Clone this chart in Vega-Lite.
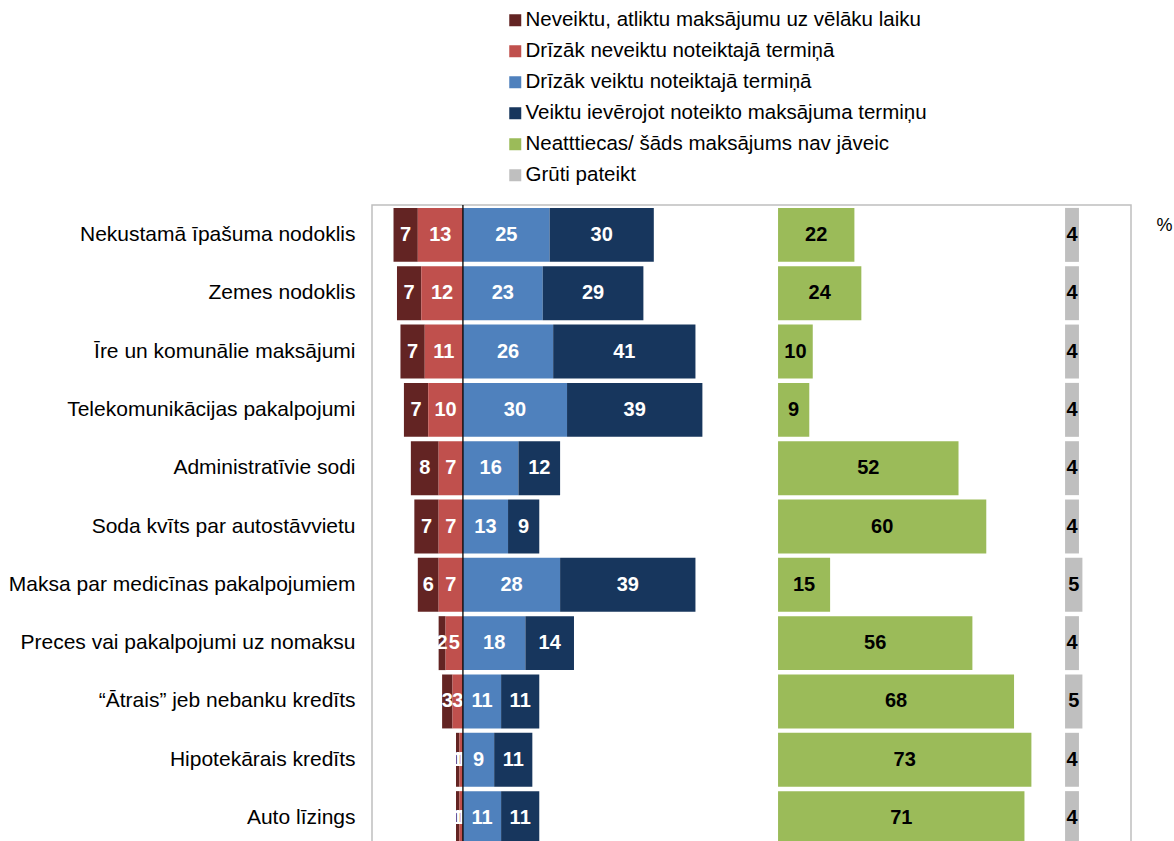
{
  "$schema": "https://vega.github.io/schema/vega-lite/v6.json",
  "width": 759,
  "height": 643,
  "autosize": {"type": "none"},
  "padding": {"left": 372, "top": 205, "right": 43, "bottom": 5},
  "config": {
    "font": "Liberation Sans",
    "view": {"stroke": "#BFBFBF", "strokeWidth": 1.5},
    "legend": {
      "orient": "none",
      "legendX": 133,
      "legendY": -195,
      "symbolType": "square",
      "symbolSize": 144,
      "symbolStrokeWidth": 0,
      "labelFontSize": 20.5,
      "labelFont": "Liberation Sans",
      "labelColor": "#000000",
      "labelOffset": 0,
      "labelLimit": 700,
      "rowPadding": 10,
      "padding": 0
    }
  },
  "data": {
    "values": [
      {"cat": "Nekustamā īpašuma nodoklis", "series": "Neveiktu, atliktu maksājumu uz vēlāku laiku", "value": 7},
      {"cat": "Nekustamā īpašuma nodoklis", "series": "Drīzāk neveiktu noteiktajā termiņā", "value": 13},
      {"cat": "Nekustamā īpašuma nodoklis", "series": "Drīzāk veiktu noteiktajā termiņā", "value": 25},
      {"cat": "Nekustamā īpašuma nodoklis", "series": "Veiktu ievērojot noteikto maksājuma termiņu", "value": 30},
      {"cat": "Nekustamā īpašuma nodoklis", "series": "Neatttiecas/ šāds maksājums nav jāveic", "value": 22},
      {"cat": "Nekustamā īpašuma nodoklis", "series": "Grūti pateikt", "value": 4},
      {"cat": "Zemes nodoklis", "series": "Neveiktu, atliktu maksājumu uz vēlāku laiku", "value": 7},
      {"cat": "Zemes nodoklis", "series": "Drīzāk neveiktu noteiktajā termiņā", "value": 12},
      {"cat": "Zemes nodoklis", "series": "Drīzāk veiktu noteiktajā termiņā", "value": 23},
      {"cat": "Zemes nodoklis", "series": "Veiktu ievērojot noteikto maksājuma termiņu", "value": 29},
      {"cat": "Zemes nodoklis", "series": "Neatttiecas/ šāds maksājums nav jāveic", "value": 24},
      {"cat": "Zemes nodoklis", "series": "Grūti pateikt", "value": 4},
      {"cat": "Īre un komunālie maksājumi", "series": "Neveiktu, atliktu maksājumu uz vēlāku laiku", "value": 7},
      {"cat": "Īre un komunālie maksājumi", "series": "Drīzāk neveiktu noteiktajā termiņā", "value": 11},
      {"cat": "Īre un komunālie maksājumi", "series": "Drīzāk veiktu noteiktajā termiņā", "value": 26},
      {"cat": "Īre un komunālie maksājumi", "series": "Veiktu ievērojot noteikto maksājuma termiņu", "value": 41},
      {"cat": "Īre un komunālie maksājumi", "series": "Neatttiecas/ šāds maksājums nav jāveic", "value": 10},
      {"cat": "Īre un komunālie maksājumi", "series": "Grūti pateikt", "value": 4},
      {"cat": "Telekomunikācijas pakalpojumi", "series": "Neveiktu, atliktu maksājumu uz vēlāku laiku", "value": 7},
      {"cat": "Telekomunikācijas pakalpojumi", "series": "Drīzāk neveiktu noteiktajā termiņā", "value": 10},
      {"cat": "Telekomunikācijas pakalpojumi", "series": "Drīzāk veiktu noteiktajā termiņā", "value": 30},
      {"cat": "Telekomunikācijas pakalpojumi", "series": "Veiktu ievērojot noteikto maksājuma termiņu", "value": 39},
      {"cat": "Telekomunikācijas pakalpojumi", "series": "Neatttiecas/ šāds maksājums nav jāveic", "value": 9},
      {"cat": "Telekomunikācijas pakalpojumi", "series": "Grūti pateikt", "value": 4},
      {"cat": "Administratīvie sodi ", "series": "Neveiktu, atliktu maksājumu uz vēlāku laiku", "value": 8},
      {"cat": "Administratīvie sodi ", "series": "Drīzāk neveiktu noteiktajā termiņā", "value": 7},
      {"cat": "Administratīvie sodi ", "series": "Drīzāk veiktu noteiktajā termiņā", "value": 16},
      {"cat": "Administratīvie sodi ", "series": "Veiktu ievērojot noteikto maksājuma termiņu", "value": 12},
      {"cat": "Administratīvie sodi ", "series": "Neatttiecas/ šāds maksājums nav jāveic", "value": 52},
      {"cat": "Administratīvie sodi ", "series": "Grūti pateikt", "value": 4},
      {"cat": "Soda kvīts par autostāvvietu", "series": "Neveiktu, atliktu maksājumu uz vēlāku laiku", "value": 7},
      {"cat": "Soda kvīts par autostāvvietu", "series": "Drīzāk neveiktu noteiktajā termiņā", "value": 7},
      {"cat": "Soda kvīts par autostāvvietu", "series": "Drīzāk veiktu noteiktajā termiņā", "value": 13},
      {"cat": "Soda kvīts par autostāvvietu", "series": "Veiktu ievērojot noteikto maksājuma termiņu", "value": 9},
      {"cat": "Soda kvīts par autostāvvietu", "series": "Neatttiecas/ šāds maksājums nav jāveic", "value": 60},
      {"cat": "Soda kvīts par autostāvvietu", "series": "Grūti pateikt", "value": 4},
      {"cat": "Maksa par medicīnas pakalpojumiem", "series": "Neveiktu, atliktu maksājumu uz vēlāku laiku", "value": 6},
      {"cat": "Maksa par medicīnas pakalpojumiem", "series": "Drīzāk neveiktu noteiktajā termiņā", "value": 7},
      {"cat": "Maksa par medicīnas pakalpojumiem", "series": "Drīzāk veiktu noteiktajā termiņā", "value": 28},
      {"cat": "Maksa par medicīnas pakalpojumiem", "series": "Veiktu ievērojot noteikto maksājuma termiņu", "value": 39},
      {"cat": "Maksa par medicīnas pakalpojumiem", "series": "Neatttiecas/ šāds maksājums nav jāveic", "value": 15},
      {"cat": "Maksa par medicīnas pakalpojumiem", "series": "Grūti pateikt", "value": 5},
      {"cat": "Preces vai pakalpojumi uz nomaksu", "series": "Neveiktu, atliktu maksājumu uz vēlāku laiku", "value": 2},
      {"cat": "Preces vai pakalpojumi uz nomaksu", "series": "Drīzāk neveiktu noteiktajā termiņā", "value": 5},
      {"cat": "Preces vai pakalpojumi uz nomaksu", "series": "Drīzāk veiktu noteiktajā termiņā", "value": 18},
      {"cat": "Preces vai pakalpojumi uz nomaksu", "series": "Veiktu ievērojot noteikto maksājuma termiņu", "value": 14},
      {"cat": "Preces vai pakalpojumi uz nomaksu", "series": "Neatttiecas/ šāds maksājums nav jāveic", "value": 56},
      {"cat": "Preces vai pakalpojumi uz nomaksu", "series": "Grūti pateikt", "value": 4},
      {"cat": "“Ātrais” jeb nebanku kredīts", "series": "Neveiktu, atliktu maksājumu uz vēlāku laiku", "value": 3},
      {"cat": "“Ātrais” jeb nebanku kredīts", "series": "Drīzāk neveiktu noteiktajā termiņā", "value": 3},
      {"cat": "“Ātrais” jeb nebanku kredīts", "series": "Drīzāk veiktu noteiktajā termiņā", "value": 11},
      {"cat": "“Ātrais” jeb nebanku kredīts", "series": "Veiktu ievērojot noteikto maksājuma termiņu", "value": 11},
      {"cat": "“Ātrais” jeb nebanku kredīts", "series": "Neatttiecas/ šāds maksājums nav jāveic", "value": 68},
      {"cat": "“Ātrais” jeb nebanku kredīts", "series": "Grūti pateikt", "value": 5},
      {"cat": "Hipotekārais kredīts", "series": "Neveiktu, atliktu maksājumu uz vēlāku laiku", "value": 1},
      {"cat": "Hipotekārais kredīts", "series": "Drīzāk neveiktu noteiktajā termiņā", "value": 1},
      {"cat": "Hipotekārais kredīts", "series": "Drīzāk veiktu noteiktajā termiņā", "value": 9},
      {"cat": "Hipotekārais kredīts", "series": "Veiktu ievērojot noteikto maksājuma termiņu", "value": 11},
      {"cat": "Hipotekārais kredīts", "series": "Neatttiecas/ šāds maksājums nav jāveic", "value": 73},
      {"cat": "Hipotekārais kredīts", "series": "Grūti pateikt", "value": 4},
      {"cat": "Auto līzings", "series": "Neveiktu, atliktu maksājumu uz vēlāku laiku", "value": 1},
      {"cat": "Auto līzings", "series": "Drīzāk neveiktu noteiktajā termiņā", "value": 1},
      {"cat": "Auto līzings", "series": "Drīzāk veiktu noteiktajā termiņā", "value": 11},
      {"cat": "Auto līzings", "series": "Veiktu ievērojot noteikto maksājuma termiņu", "value": 11},
      {"cat": "Auto līzings", "series": "Neatttiecas/ šāds maksājums nav jāveic", "value": 71},
      {"cat": "Auto līzings", "series": "Grūti pateikt", "value": 4}
    ]
  },
  "resolve": {"scale": {"x": "independent"}, "axis": {"y": "independent"}},
  "layer": [
    {
      "transform": [
        {"filter": {"field": "series", "oneOf": ["Neveiktu, atliktu maksājumu uz vēlāku laiku", "Drīzāk neveiktu noteiktajā termiņā"]}},
        {"stack": "value", "groupby": ["cat"], "sort": [{"field": "series", "order": "ascending"}], "as": ["s0", "s1"]},
        {"calculate": "(datum.s0 + datum.s1) / 2", "as": "mid"}
      ],
      "encoding": {
        "y": {
          "field": "cat", "type": "nominal",
          "sort": ["Nekustamā īpašuma nodoklis", "Zemes nodoklis", "Īre un komunālie maksājumi", "Telekomunikācijas pakalpojumi", "Administratīvie sodi ", "Soda kvīts par autostāvvietu", "Maksa par medicīnas pakalpojumiem", "Preces vai pakalpojumi uz nomaksu", "“Ātrais” jeb nebanku kredīts", "Hipotekārais kredīts", "Auto līzings"],
          "scale": {"paddingInner": 0.075, "paddingOuter": 0.05},
          "axis": {"title": null, "ticks": false, "domain": false, "labelFontSize": 21, "labelFont": "Liberation Sans", "labelPadding": 17, "labelColor": "#000000", "labelLimit": 500}
        }
      },
      "layer": [
        {
          "mark": {"type": "bar"},
          "encoding": {
            "x": {"field": "s0", "type": "quantitative", "scale": {"domain": [-192.5, 26.2], "reverse": true, "nice": false, "zero": false}, "axis": null},
            "x2": {"field": "s1"},
            "color": {
              "field": "series", "type": "nominal",
              "scale": {
                "domain": ["Neveiktu, atliktu maksājumu uz vēlāku laiku", "Drīzāk neveiktu noteiktajā termiņā", "Drīzāk veiktu noteiktajā termiņā", "Veiktu ievērojot noteikto maksājuma termiņu", "Neatttiecas/ šāds maksājums nav jāveic", "Grūti pateikt"],
                "range": ["#632423", "#C0504D", "#4F81BD", "#17365D", "#9BBB59", "#BFBFBF"]
              },
              "legend": {"title": null}
            }
          }
        },
        {
          "mark": {"type": "text", "color": "white", "fontWeight": "bold", "fontSize": 20},
          "encoding": {
            "x": {"field": "mid", "type": "quantitative", "scale": {"domain": [-192.5, 26.2], "reverse": true, "nice": false, "zero": false}, "axis": null},
            "text": {"field": "value", "type": "quantitative"}
          }
        }
      ]
    },
    {
      "transform": [
        {"filter": {"field": "series", "oneOf": ["Drīzāk veiktu noteiktajā termiņā", "Veiktu ievērojot noteikto maksājuma termiņu"]}},
        {"stack": "value", "groupby": ["cat"], "sort": [{"field": "series", "order": "ascending"}], "as": ["s0", "s1"]},
        {"calculate": "(datum.s0 + datum.s1) / 2", "as": "mid"}
      ],
      "encoding": {
        "y": {
          "field": "cat", "type": "nominal",
          "sort": ["Nekustamā īpašuma nodoklis", "Zemes nodoklis", "Īre un komunālie maksājumi", "Telekomunikācijas pakalpojumi", "Administratīvie sodi ", "Soda kvīts par autostāvvietu", "Maksa par medicīnas pakalpojumiem", "Preces vai pakalpojumi uz nomaksu", "“Ātrais” jeb nebanku kredīts", "Hipotekārais kredīts", "Auto līzings"],
          "axis": null
        }
      },
      "layer": [
        {
          "mark": {"type": "bar"},
          "encoding": {
            "x": {"field": "s0", "type": "quantitative", "scale": {"domain": [-26.2, 192.5], "nice": false, "zero": false}, "axis": null},
            "x2": {"field": "s1"},
            "color": {
              "field": "series", "type": "nominal",
              "scale": {
                "domain": ["Neveiktu, atliktu maksājumu uz vēlāku laiku", "Drīzāk neveiktu noteiktajā termiņā", "Drīzāk veiktu noteiktajā termiņā", "Veiktu ievērojot noteikto maksājuma termiņu", "Neatttiecas/ šāds maksājums nav jāveic", "Grūti pateikt"],
                "range": ["#632423", "#C0504D", "#4F81BD", "#17365D", "#9BBB59", "#BFBFBF"]
              },
              "legend": {"title": null}
            }
          }
        },
        {
          "mark": {"type": "text", "color": "white", "fontWeight": "bold", "fontSize": 20},
          "encoding": {
            "x": {"field": "mid", "type": "quantitative", "scale": {"domain": [-26.2, 192.5], "nice": false, "zero": false}, "axis": null},
            "text": {"field": "value", "type": "quantitative"}
          }
        }
      ]
    },
    {
      "transform": [
        {"filter": {"field": "series", "oneOf": ["Neatttiecas/ šāds maksājums nav jāveic"]}},
        {"stack": "value", "groupby": ["cat"], "as": ["s0", "s1"]},
        {"calculate": "(datum.s0 + datum.s1) / 2", "as": "mid"}
      ],
      "encoding": {
        "y": {
          "field": "cat", "type": "nominal",
          "sort": ["Nekustamā īpašuma nodoklis", "Zemes nodoklis", "Īre un komunālie maksājumi", "Telekomunikācijas pakalpojumi", "Administratīvie sodi ", "Soda kvīts par autostāvvietu", "Maksa par medicīnas pakalpojumiem", "Preces vai pakalpojumi uz nomaksu", "“Ātrais” jeb nebanku kredīts", "Hipotekārais kredīts", "Auto līzings"],
          "axis": null
        }
      },
      "layer": [
        {
          "mark": {"type": "bar"},
          "encoding": {
            "x": {"field": "s0", "type": "quantitative", "scale": {"domain": [-117, 101.7], "nice": false, "zero": false}, "axis": null},
            "x2": {"field": "s1"},
            "color": {
              "field": "series", "type": "nominal",
              "scale": {
                "domain": ["Neveiktu, atliktu maksājumu uz vēlāku laiku", "Drīzāk neveiktu noteiktajā termiņā", "Drīzāk veiktu noteiktajā termiņā", "Veiktu ievērojot noteikto maksājuma termiņu", "Neatttiecas/ šāds maksājums nav jāveic", "Grūti pateikt"],
                "range": ["#632423", "#C0504D", "#4F81BD", "#17365D", "#9BBB59", "#BFBFBF"]
              },
              "legend": {"title": null}
            }
          }
        },
        {
          "mark": {"type": "text", "color": "black", "fontWeight": "bold", "fontSize": 20},
          "encoding": {
            "x": {"field": "mid", "type": "quantitative", "scale": {"domain": [-117, 101.7], "nice": false, "zero": false}, "axis": null},
            "text": {"field": "value", "type": "quantitative"}
          }
        }
      ]
    },
    {
      "transform": [
        {"filter": {"field": "series", "oneOf": ["Grūti pateikt"]}},
        {"stack": "value", "groupby": ["cat"], "as": ["s0", "s1"]},
        {"calculate": "(datum.s0 + datum.s1) / 2", "as": "mid"}
      ],
      "encoding": {
        "y": {
          "field": "cat", "type": "nominal",
          "sort": ["Nekustamā īpašuma nodoklis", "Zemes nodoklis", "Īre un komunālie maksājumi", "Telekomunikācijas pakalpojumi", "Administratīvie sodi ", "Soda kvīts par autostāvvietu", "Maksa par medicīnas pakalpojumiem", "Preces vai pakalpojumi uz nomaksu", "“Ātrais” jeb nebanku kredīts", "Hipotekārais kredīts", "Auto līzings"],
          "axis": {"orient": "right", "title": "%", "labels": false, "ticks": false, "domain": false, "titleAngle": 0, "titleFontSize": 18, "titleFontWeight": "normal", "titleFont": "Liberation Sans", "titleColor": "#000000", "titleX": 25, "titleY": 20, "titleAlign": "left", "titleBaseline": "middle"}
        }
      },
      "layer": [
        {
          "mark": {"type": "bar"},
          "encoding": {
            "x": {"field": "s0", "type": "quantitative", "scale": {"domain": [-199.7, 19.0], "nice": false, "zero": false}, "axis": null},
            "x2": {"field": "s1"},
            "color": {
              "field": "series", "type": "nominal",
              "scale": {
                "domain": ["Neveiktu, atliktu maksājumu uz vēlāku laiku", "Drīzāk neveiktu noteiktajā termiņā", "Drīzāk veiktu noteiktajā termiņā", "Veiktu ievērojot noteikto maksājuma termiņu", "Neatttiecas/ šāds maksājums nav jāveic", "Grūti pateikt"],
                "range": ["#632423", "#C0504D", "#4F81BD", "#17365D", "#9BBB59", "#BFBFBF"]
              },
              "legend": {"title": null}
            }
          }
        },
        {
          "mark": {"type": "text", "color": "black", "fontWeight": "bold", "fontSize": 20},
          "encoding": {
            "x": {"field": "mid", "type": "quantitative", "scale": {"domain": [-199.7, 19.0], "nice": false, "zero": false}, "axis": null},
            "text": {"field": "value", "type": "quantitative"}
          }
        }
      ]
    },
    {
      "data": {"values": [{}]},
      "mark": {"type": "rule", "color": "black", "strokeWidth": 1.3},
      "encoding": {
        "x": {"datum": 0, "type": "quantitative", "scale": {"domain": [-26.2, 192.5], "nice": false, "zero": false}, "axis": null}
      }
    }
  ]
}
